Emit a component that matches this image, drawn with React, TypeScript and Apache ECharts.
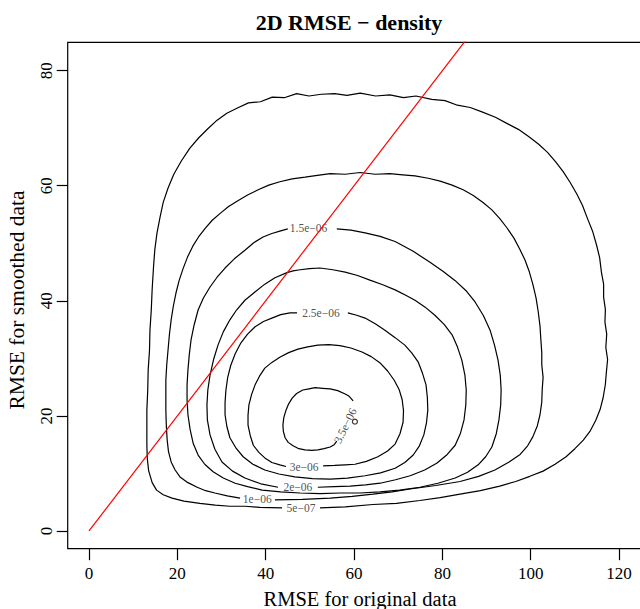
import React, { useEffect, useRef } from 'react';
import * as echarts from 'echarts';

// ---- axis ticks ----
const xTicks = [0, 20, 40, 60, 80, 100, 120];
const yTicks = [0, 20, 40, 60, 80];

// ---- contour levels (outer to inner) ----
const contourLevels = ['5e−07', '1e−06', '1.5e−06', '2e−06', '2.5e−06', '3e−06', '3.5e−06'];

// ---- contour lines (x = RMSE original, y = RMSE smoothed), each broken at its label ----
const level5e07 = [
  [52.3, 4.0], [58.0, 4.2], [64.3, 4.6], [69.6, 4.8], [74.9, 5.3], [79.5, 5.8], [84.0, 6.4], [88.6, 7.0], [93.0, 7.8],
  [96.6, 8.6], [99.8, 9.5], [102.8, 10.4], [105.5, 11.6], [108.0, 12.9], [110.0, 14.3], [111.9, 15.8], [113.4, 17.3],
  [114.7, 19.2], [115.7, 21.1], [116.4, 23.2], [116.9, 25.5], [117.1, 27.4], [117.4, 29.8], [117.0, 31.9], [117.2, 34.2],
  [116.8, 36.3], [116.9, 38.5], [116.5, 40.6], [116.5, 42.9], [116.0, 45.0], [115.6, 47.5], [114.9, 49.7], [114.0, 52.1],
  [112.9, 54.2], [111.7, 56.6], [110.4, 58.6], [108.9, 60.6], [107.3, 62.5], [105.6, 64.2], [103.8, 65.8], [101.8, 67.2],
  [99.6, 68.5], [97.2, 69.8], [94.7, 70.8], [92.0, 71.9], [89.1, 72.8], [86.3, 73.6], [83.4, 74.0], [80.6, 74.8],
  [77.6, 75.0], [74.0, 75.6], [71.2, 75.3], [68.1, 75.8], [64.9, 75.6], [61.4, 76.1], [58.4, 75.7], [55.6, 76.0],
  [52.6, 75.9], [49.8, 75.6], [47.0, 76.0], [44.2, 75.3], [41.5, 75.4], [38.8, 74.6], [36.1, 74.4], [33.6, 73.5],
  [31.2, 72.6], [29.0, 71.4], [26.9, 69.9], [24.8, 68.3], [22.8, 66.5], [20.9, 64.3], [19.2, 62.0], [17.9, 59.6],
  [16.8, 57.1], [16.1, 54.6], [15.4, 51.8], [14.9, 48.9], [14.6, 45.8], [14.3, 42.0], [14.1, 38.4], [13.8, 34.9],
  [13.7, 31.4], [13.4, 28.0], [13.3, 24.5], [13.1, 21.0], [13.1, 17.9], [13.1, 14.9], [13.2, 12.6], [13.5, 10.5],
  [14.3, 8.4], [15.3, 7.1], [16.8, 6.3], [18.8, 5.7], [21.5, 5.2], [25.1, 4.8], [28.6, 4.5], [31.9, 4.3], [35.4, 4.3],
  [38.7, 4.1], [43.7, 4.0],
];

const level1e06 = [
  [42.1, 5.4], [48.3, 5.5], [54.6, 5.7], [59.6, 6.0], [64.3, 6.4], [68.6, 6.8], [72.7, 7.3], [78.5, 7.9], [84.0, 8.6],
  [88.2, 9.5], [91.9, 10.6], [95.1, 12.0], [97.6, 13.3], [99.3, 14.8], [100.5, 16.4], [101.5, 18.3], [102.1, 20.2],
  [102.5, 22.4], [102.6, 24.6], [102.8, 26.7], [102.5, 28.9], [102.5, 31.0], [102.3, 33.2], [102.1, 35.6], [101.7, 38.1],
  [101.2, 40.5], [100.5, 42.8], [99.7, 45.0], [98.7, 47.1], [97.5, 49.0], [96.2, 50.9], [94.6, 52.7], [93.0, 54.3],
  [91.2, 55.8], [89.2, 57.1], [87.0, 58.3], [84.7, 59.3], [82.2, 60.1], [79.5, 60.8], [76.8, 61.3], [73.8, 61.7],
  [71.0, 61.9], [68.1, 62.1], [64.8, 62.0], [61.4, 62.3], [58.0, 62.0], [54.6, 62.1], [51.7, 61.8], [48.9, 61.5],
  [46.0, 61.2], [43.2, 60.7], [40.7, 60.1], [38.3, 59.3], [35.9, 58.4], [33.7, 57.4], [31.6, 56.4], [29.7, 55.2],
  [27.9, 54.0], [26.3, 52.6], [24.8, 51.1], [23.5, 49.5], [22.3, 47.6], [21.3, 45.6], [20.4, 43.5], [19.7, 41.4],
  [19.1, 39.1], [18.6, 36.7], [18.2, 34.1], [17.9, 31.5], [17.6, 28.9], [17.4, 26.2], [17.4, 23.6], [17.4, 21.0],
  [17.5, 18.4], [17.7, 15.8], [18.0, 13.8], [18.6, 12.0], [19.5, 10.6], [20.6, 9.4], [22.4, 8.4], [24.5, 7.6],
  [26.4, 7.0], [28.5, 6.6], [31.3, 6.1], [34.2, 5.7],
];

const level15e07 = [
  [56.1, 52.5], [59.3, 52.3], [62.5, 51.8], [65.9, 51.2], [69.3, 50.3], [73.4, 48.6], [77.2, 46.7], [80.2, 45.1],
  [82.9, 43.5], [85.3, 41.8], [87.4, 39.8], [89.3, 37.4], [90.8, 34.9], [91.8, 32.3], [92.6, 29.7], [93.1, 27.1],
  [93.3, 24.5], [93.2, 21.9], [92.8, 19.3], [92.2, 16.9], [91.2, 14.6], [89.8, 12.9], [88.1, 11.5], [85.7, 10.2],
  [82.9, 9.2], [79.0, 8.3], [74.9, 7.6], [70.3, 7.1], [65.9, 6.8], [61.3, 6.6], [56.8, 6.6], [52.3, 6.5], [47.8, 6.6],
  [43.4, 6.8], [39.2, 7.1], [35.9, 7.7], [33.1, 8.3], [30.4, 9.2], [28.1, 10.3], [26.2, 11.6], [24.7, 13.2],
  [23.6, 15.2], [22.9, 17.6], [22.4, 20.2], [22.2, 22.8], [22.2, 25.4], [22.4, 28.0], [22.7, 30.6], [23.1, 33.2],
  [23.8, 35.8], [24.7, 38.4], [25.9, 40.5], [27.4, 42.4], [29.0, 44.1], [30.8, 45.7], [32.9, 47.3], [35.3, 48.8],
  [37.3, 50.1], [39.4, 51.1], [41.4, 51.7], [43.2, 52.1], [45.0, 52.5],
];

const level2e06 = [
  [51.8, 7.6], [55.5, 7.7], [59.1, 7.8], [62.6, 8.0], [65.9, 8.3], [69.4, 8.9], [72.7, 9.6], [76.0, 10.6], [78.8, 11.8],
  [81.1, 13.3], [82.9, 14.9], [84.1, 17.0], [84.9, 19.3], [85.3, 21.9], [85.4, 24.5], [85.1, 27.1], [84.4, 29.7],
  [83.4, 32.0], [82.2, 34.1], [80.4, 35.9], [78.3, 37.5], [76.1, 38.9], [73.8, 40.1], [71.6, 41.0], [69.3, 41.9],
  [66.5, 42.8], [63.6, 43.6], [60.8, 44.4], [58.0, 45.0], [55.2, 45.4], [52.3, 45.7], [49.9, 45.6], [47.8, 45.4],
  [46.2, 45.2], [44.8, 44.9], [42.1, 44.0], [39.8, 42.9], [37.5, 41.5], [35.3, 40.1], [33.4, 38.4], [31.9, 36.7],
  [30.4, 34.6], [29.2, 32.3], [28.2, 29.8], [27.4, 27.1], [26.9, 24.5], [26.7, 21.9], [26.8, 19.3], [27.4, 16.7],
  [28.5, 14.2], [30.1, 12.0], [32.5, 10.4], [35.3, 9.2], [38.9, 8.2], [42.8, 7.6],
];

const level25e07 = [
  [58.6, 37.9], [60.6, 37.5], [62.5, 37.0], [64.8, 36.0], [67.0, 34.9], [69.3, 33.6], [71.5, 32.3], [73.1, 30.9],
  [74.5, 29.4], [75.5, 27.4], [76.3, 25.4], [76.6, 23.2], [76.7, 21.0], [76.4, 18.8], [75.8, 16.7], [74.8, 14.8],
  [73.4, 13.2], [71.5, 11.9], [69.3, 10.9], [66.0, 10.1], [62.5, 9.6], [58.5, 9.2], [54.6, 9.0], [50.6, 9.1],
  [46.6, 9.4], [43.0, 9.9], [39.8, 10.6], [37.1, 11.6], [34.9, 12.9], [33.2, 14.5], [31.9, 16.2], [31.2, 18.2],
  [30.8, 20.2], [30.8, 22.3], [31.0, 24.5], [31.4, 26.7], [32.1, 28.8], [33.1, 30.8], [34.4, 32.7], [35.9, 34.2],
  [37.6, 35.5], [39.5, 36.4], [41.4, 37.0], [43.4, 37.6], [45.5, 37.9], [47.1, 37.9],
];

const level3e06 = [
  [53.0, 11.3], [55.6, 11.4], [58.0, 11.5], [60.2, 11.6], [62.8, 12.1], [65.4, 12.9], [67.6, 13.9], [69.3, 15.1],
  [70.4, 16.9], [71.1, 18.9], [71.2, 20.9], [70.9, 22.8], [70.2, 24.6], [69.1, 26.2], [67.6, 27.8], [65.9, 29.2],
  [63.9, 30.3], [61.8, 31.1], [59.3, 31.8], [56.8, 32.2], [54.3, 32.4], [51.8, 32.3], [49.5, 32.0], [47.3, 31.6],
  [45.2, 31.0], [43.2, 30.2], [41.4, 29.3], [39.8, 28.3], [38.6, 26.9], [37.6, 25.4], [36.8, 23.7], [36.2, 21.9],
  [36.0, 20.1], [36.0, 18.4], [36.5, 16.6], [37.2, 14.9], [38.4, 13.7], [39.8, 12.7], [41.4, 11.9], [43.2, 11.5],
  [44.6, 11.2],
];

const level35e07 = [
  [59.8, 22.6], [58.9, 23.4], [58.0, 23.8], [56.3, 24.4], [54.6, 24.7], [52.9, 24.8], [51.2, 24.9], [49.8, 24.7],
  [48.4, 24.5], [47.0, 23.9], [46.0, 23.1], [45.2, 22.1], [44.6, 21.0], [44.1, 19.7], [43.9, 18.4], [44.0, 17.3],
  [44.4, 16.2], [45.1, 15.4], [46.2, 14.8], [47.5, 14.3], [48.9, 14.1], [50.4, 14.0], [51.8, 14.1], [53.2, 14.3],
  [54.6, 14.6], [55.5, 15.0], [56.1, 15.6],
];

// tiny closed 3.5e-06 island
const tinyIsland = [[60.2, 19.0]];

// contour label anchor points (data coords), same order as contourLevels
const labelAnchors = [
  [48.0, 4.0], [38.1, 5.6], [49.7, 52.7], [47.3, 7.6], [52.5, 37.9], [48.7, 11.1], [58.0, 18.3],
];

// reference line y = x
const identityLine = [[0, 0], [90, 90]];

const contourLines = [level5e07, level1e06, level15e07, level2e06, level25e07, level3e06, level35e07];

export default function App() {
  const ref = useRef<HTMLDivElement>(null);

  useEffect(() => {
    if (!ref.current) return;
    const chart = echarts.init(ref.current, null, { renderer: 'svg' });
    const serif = "'Liberation Serif', 'Times New Roman', Times, serif";

    const series: any[] = contourLines.map((pts, i) => ({
      name: contourLevels[i],
      type: 'line',
      data: pts,
      symbol: 'none',
      showSymbol: false,
      silent: true,
      lineStyle: { color: '#000', width: 1.2 },
      z: 2,
    }));

    series.push({
      type: 'scatter',
      data: tinyIsland,
      symbol: 'circle',
      symbolSize: 5,
      silent: true,
      itemStyle: { color: '#fff', borderColor: '#000', borderWidth: 1.2 },
      z: 3,
    });

    series.push({
      type: 'scatter',
      symbolSize: 1,
      silent: true,
      itemStyle: { color: 'rgba(0,0,0,0)' },
      data: contourLevels.map((name, i) => {
        const item: any = { name, value: labelAnchors[i] };
        if (i === contourLevels.length - 1) item.label = { rotate: 64 };
        return item;
      }),
      label: {
        show: true,
        position: 'inside',
        formatter: '{b}',
        fontSize: 11.5,
        fontFamily: serif,
        color: '#222',
      },
      z: 4,
    });

    series.push({
      type: 'line',
      data: identityLine,
      symbol: 'none',
      showSymbol: false,
      silent: true,
      clip: true,
      lineStyle: { color: '#ff0000', width: 1.2 },
      z: 5,
    });

    chart.setOption({
      animation: false,
      backgroundColor: '#fff',
      grid: {
        left: 67.7,
        top: 42.3,
        width: 582.3,
        height: 506.4,
        show: true,
        borderColor: '#000',
        borderWidth: 1.2,
        containLabel: false,
        outerBoundsMode: 'none',
      },
      xAxis: {
        type: 'value',
        min: -4.82,
        max: 127,
        axisLine: { show: false, onZero: false },
        splitLine: { show: false },
        axisTick: { show: true, length: 11.5, lineStyle: { color: '#000', width: 1.2 }, customValues: xTicks },
        axisLabel: { customValues: xTicks, fontSize: 17, fontFamily: serif, color: '#000', margin: 16 },
      },
      yAxis: {
        type: 'value',
        min: -3.08,
        max: 84.93,
        axisLine: { show: false, onZero: false },
        splitLine: { show: false },
        axisTick: { show: true, length: 11, lineStyle: { color: '#000', width: 1.2 }, customValues: yTicks },
        axisLabel: { customValues: yTicks, fontSize: 17, fontFamily: serif, color: '#000', margin: 13, rotate: 90 },
      },
      graphic: [
        {
          type: 'text',
          x: 349,
          y: 22,
          silent: true,
          style: {
            text: '2D RMSE − density',
            fontSize: 22,
            fontWeight: 'bold',
            fontFamily: serif,
            fill: '#000',
            align: 'center',
            verticalAlign: 'middle',
          },
        },
        {
          type: 'text',
          x: 360,
          y: 598.5,
          silent: true,
          style: {
            text: 'RMSE for original data',
            fontSize: 20.5,
            fontFamily: serif,
            fill: '#000',
            align: 'center',
            verticalAlign: 'middle',
          },
        },
        {
          type: 'text',
          x: 16.7,
          y: 300,
          rotation: Math.PI / 2,
          silent: true,
          style: {
            text: 'RMSE for smoothed data',
            fontSize: 21.5,
            fontFamily: serif,
            fill: '#000',
            align: 'center',
            verticalAlign: 'middle',
          },
        },
      ],
      series,
    });

    return () => chart.dispose();
  }, []);

  return (
    <div
      ref={ref}
      style={{ position: 'absolute', left: 0, top: 0, width: 640, height: 609, overflow: 'hidden' }}
    />
  );
}
